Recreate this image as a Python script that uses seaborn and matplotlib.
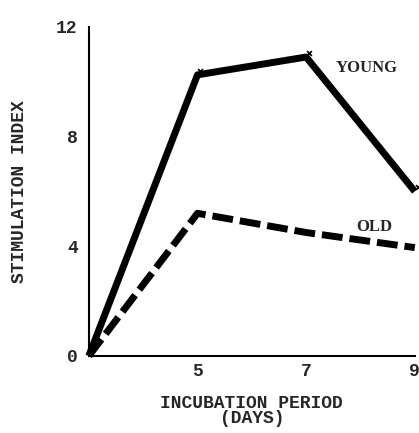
import matplotlib
matplotlib.use("Agg")
import matplotlib.pyplot as plt
import seaborn as sns
import pandas as pd

days = [3, 5, 7, 9]
young = [0.0, 10.25, 10.9, 6.0]
old = [0.0, 5.2, 4.5, 3.95]
x_ticks = [5, 7, 9]
y_ticks = [0, 4, 8, 12]

df = pd.DataFrame({
    "day": days * 2,
    "index": young + old,
    "group": ["YOUNG"] * len(days) + ["OLD"] * len(days),
})

sns.set_style("white")
plt.rcParams["font.family"] = ["Liberation Mono", "DejaVu Sans Mono"]
plt.rcParams["font.weight"] = "bold"

fig = plt.figure(figsize=(4.19, 4.33), dpi=100)
ax = fig.add_axes([0.212, 0.178, 0.778, 0.760])

sns.lineplot(data=df, x="day", y="index", style="group", hue="group",
             palette={"YOUNG": "black", "OLD": "black"},
             dashes={"YOUNG": "", "OLD": (3.0, 1.0)},
             linewidth=5.0, legend=False, ax=ax, clip_on=False)
for line in ax.lines:
    line.set_solid_capstyle("butt")
    line.set_dash_capstyle("butt")

ax.scatter([d + 0.05 for d in days[1:]], [v + 0.15 for v in young[1:]],
           marker="x", s=12, color="black", linewidths=1.2,
           clip_on=False, zorder=5)

ax.set_xlim(3, 9)
ax.set_ylim(0, 12)
ax.set_xticks(x_ticks)
ax.set_yticks(y_ticks)
ax.set_xticklabels([str(t) for t in x_ticks], fontsize=13, fontweight="bold")
ax.set_yticklabels([str(t) for t in y_ticks], fontsize=13, fontweight="bold")
ax.tick_params(axis="x", direction="in", length=4, width=1.2, pad=5)
ax.tick_params(axis="y", direction="in", length=4, width=1.2, pad=8)
sns.despine(ax=ax)
for s in ["left", "bottom"]:
    ax.spines[s].set_linewidth(1.5)
    ax.spines[s].set_color("black")

ax.set_xlabel("INCUBATION PERIOD\n(DAYS)", fontsize=13, fontweight="bold",
              labelpad=11, linespacing=0.85)
ax.set_ylabel("STIMULATION INDEX", fontsize=13, fontweight="bold", labelpad=20)

ax.text(7.55, 10.5, "YOUNG", fontsize=12, fontweight="bold",
        family=["Liberation Serif"], ha="left", va="center")
ax.text(7.92, 4.7, "OLD", fontsize=12, fontweight="bold",
        family=["Liberation Serif"], ha="left", va="center")

fig.savefig("out.png", dpi=100, facecolor="white")
